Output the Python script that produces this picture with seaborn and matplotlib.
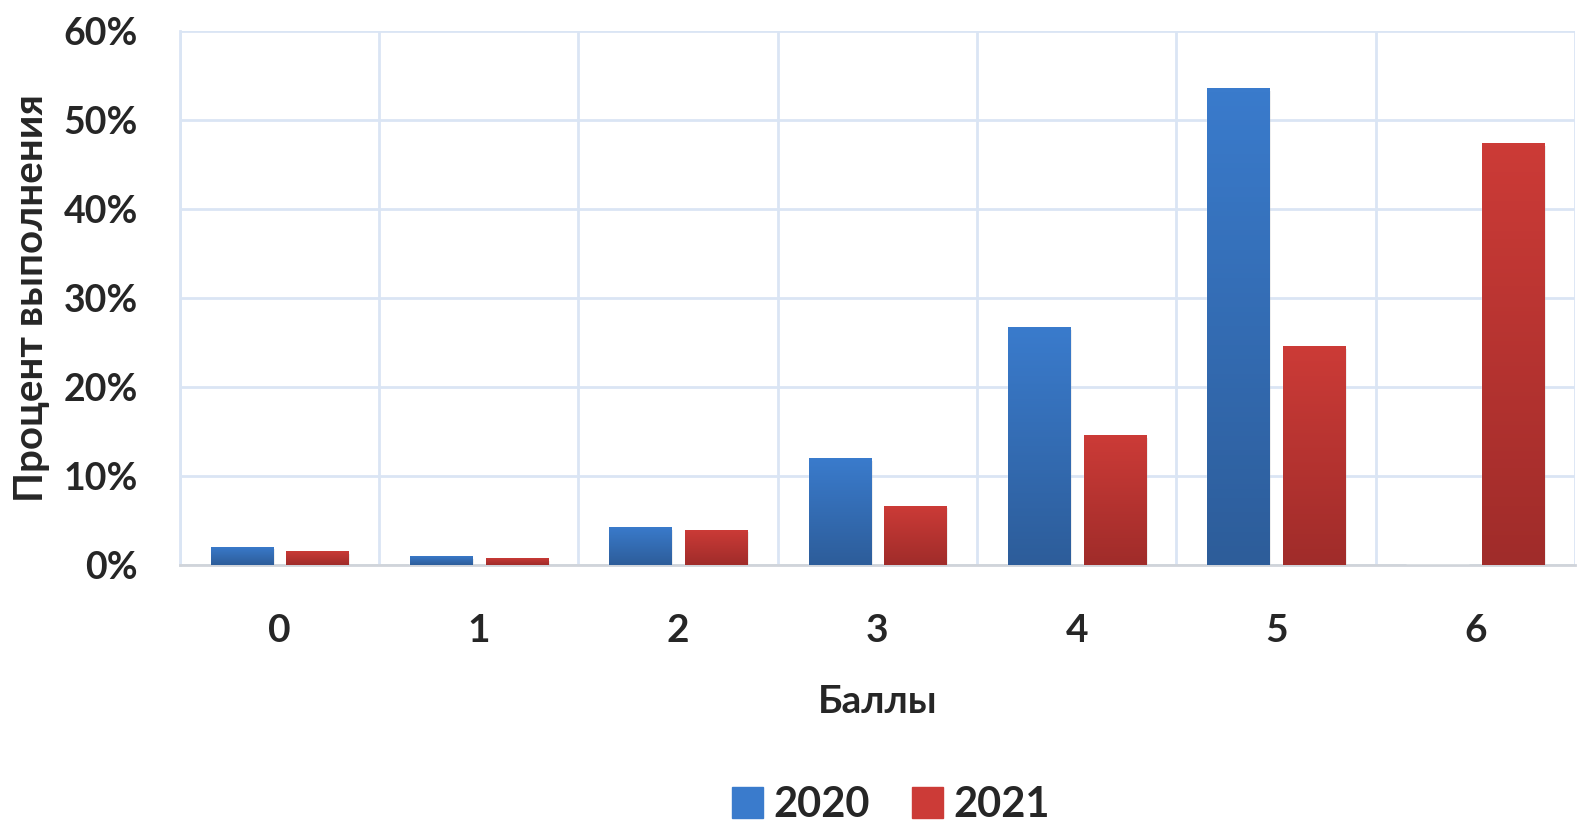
import pandas as pd
import matplotlib
matplotlib.use('Agg')
import matplotlib.pyplot as plt
import matplotlib.colors as mcolors
import matplotlib.patches as mpatches
import seaborn as sns
import numpy as np

scores = ['0', '1', '2', '3', '4', '5', '6']
years = ['2020', '2021']
values_2020 = [2.1, 1.05, 4.3, 12.0, 26.7, 53.6, 0.0]
values_2021 = [1.6, 0.8, 4.0, 6.7, 14.6, 24.6, 47.4]
colors = {'2020': '#3a7bcc', '2021': '#cc3b37'}
dark = {'2020': '#2d5d9a', '2021': '#a02c2a'}

df = pd.DataFrame({
    'Баллы': scores * 2,
    'Год': ['2020'] * len(scores) + ['2021'] * len(scores),
    'Процент': values_2020 + values_2021,
})

sns.set_style('white')
plt.rcParams['font.family'] = ['Lato', 'DejaVu Sans']
plt.rcParams['font.weight'] = 'bold'

fig = plt.figure(figsize=(15.91, 8.35), dpi=100)
ax = fig.add_axes([0.113, 0.323, 0.877, 0.64])

sns.barplot(data=df, x='Баллы', y='Процент', hue='Год', order=scores,
            hue_order=years, palette=colors, width=0.76, gap=0.18,
            legend=False, ax=ax, zorder=3)

# градиент на столбцах
for cont, yr in zip(ax.containers, years):
    cmap = mcolors.LinearSegmentedColormap.from_list(yr, [dark[yr], colors[yr]])
    for bar in cont:
        x0, w, h = bar.get_x(), bar.get_width(), bar.get_height()
        if h <= 0:
            continue
        grad = np.linspace(0, 1, 100).reshape(-1, 1)
        im = ax.imshow(grad, extent=[x0, x0 + w, 0, h], origin='lower',
                       aspect='auto', cmap=cmap, zorder=3.5)
        im.set_clip_path(bar)
        # тень
        sh = mpatches.Rectangle((x0 + 0.01, -0.3), w, h, color='#000000',
                                alpha=0.08, zorder=2.9, lw=0)
        ax.add_patch(sh)

ax.set_xlim(-0.5, 6.5)
ax.set_ylim(0, 60)
ax.set_yticks(range(0, 61, 10))
ax.set_yticklabels([f'{v}%' for v in range(0, 61, 10)], fontsize=27, fontweight='bold')
ax.set_xticks(range(len(scores)))
ax.set_xticklabels(scores, fontsize=28, fontweight='bold')
ax.set_xticks(np.arange(-0.5, 6.6, 1), minor=True)
ax.tick_params(axis='both', which='both', length=0)
ax.tick_params(axis='x', pad=34)
ax.tick_params(axis='y', pad=30)

ax.grid(axis='y', color='#dae5f4', lw=2, zorder=0)
ax.grid(axis='x', which='minor', color='#dae5f4', lw=2, zorder=0)
ax.grid(axis='x', which='major', visible=False)
for s in ['top', 'right']:
    ax.spines[s].set_visible(False)
ax.spines['left'].set_color('#dae5f4')
ax.spines['left'].set_linewidth(2)
ax.spines['bottom'].set_color('#d0d4da')
ax.spines['bottom'].set_linewidth(2)

ax.set_xlabel('Баллы', fontsize=28, fontweight='bold', labelpad=26)
ax.set_ylabel('Процент выполнения', fontsize=29, fontweight='bold', labelpad=10)

handles = [mpatches.Patch(color=colors[y], label=y) for y in years]
fig.legend(handles=handles, loc='center', bbox_to_anchor=(0.56, 0.036), ncol=2,
           frameon=False, prop={'size': 30, 'weight': 'bold'},
           handlelength=0.75, handleheight=0.75, handletextpad=0.25, columnspacing=1.0)

plt.savefig('out.png', dpi=100)
